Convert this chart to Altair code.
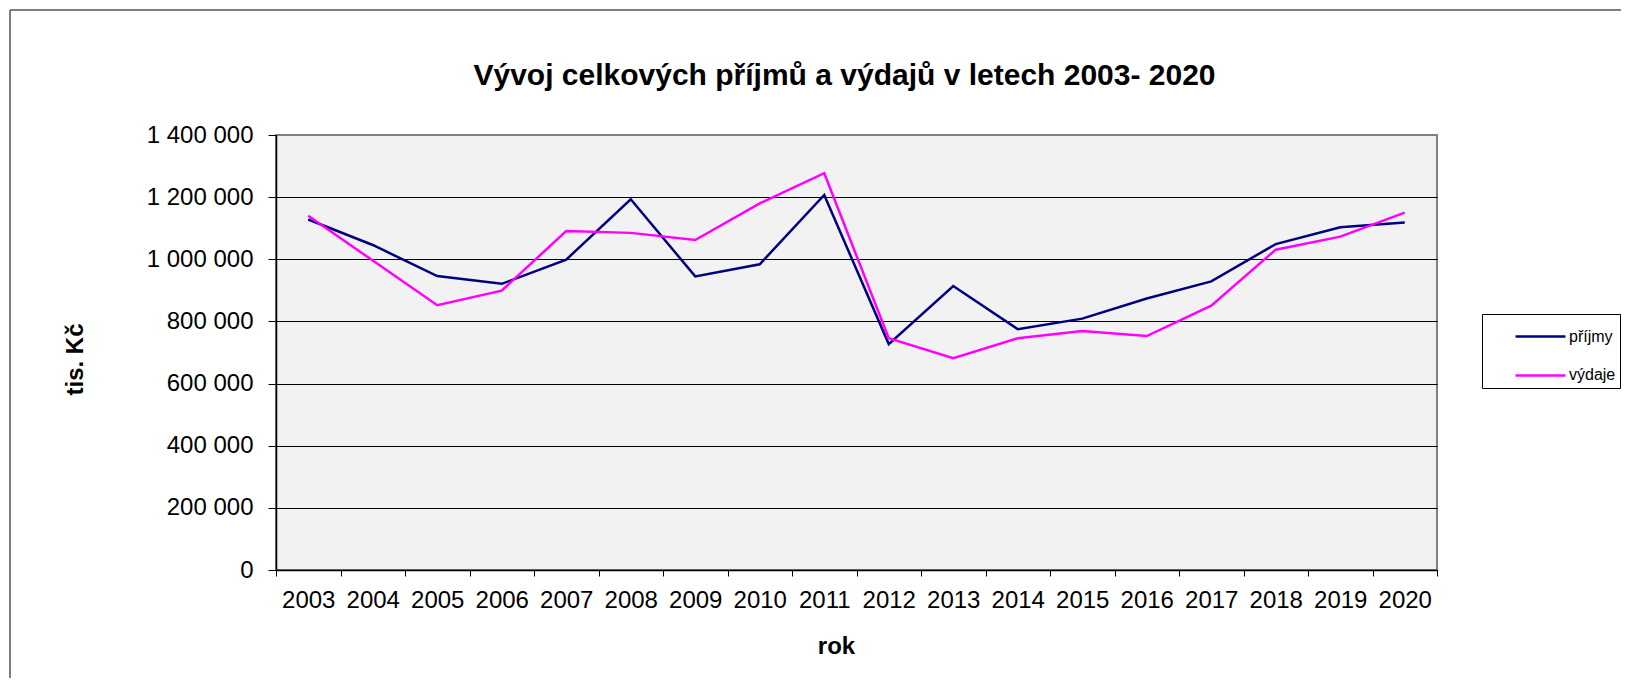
import altair as alt
import pandas as pd

# ---- data ----
years = [str(y) for y in range(2003, 2021)]
prijmy = [1128000, 1046000, 946000, 921000, 999000, 1193000, 945000, 984000, 1207000,
          727000, 914000, 775000, 809000, 874000, 929000, 1049000, 1103000, 1118000]
vydaje = [1140000, 996000, 852000, 899000, 1091000, 1085000, 1062000, 1180000, 1277000,
          746000, 682000, 746000, 769000, 753000, 851000, 1031000, 1073000, 1150000]
series_names = ["příjmy", "výdaje"]
series_colors = ["#000080", "#FF00FF"]
y_ticks = [0, 200000, 400000, 600000, 800000, 1000000, 1200000, 1400000]

rows = []
for i, yr in enumerate(years):
    rows.append({"rok": yr, "serie": series_names[0], "hodnota": prijmy[i]})
    rows.append({"rok": yr, "serie": series_names[1], "hodnota": vydaje[i]})
df = pd.DataFrame(rows)

FONT = "Liberation Sans"
W, H = 1161, 435

x_enc = alt.X(
    "rok:N",
    bandPosition=0.5,
    sort=years,
    scale=alt.Scale(type="band", paddingInner=0, paddingOuter=0),
    axis=alt.Axis(
        title="rok", labelAngle=0, tickBand="extent", tickSize=6, tickColor="#000000",
        domainColor="#000000", domainWidth=1.5, labelFont=FONT, labelFontSize=24,
        labelColor="#000000", labelPadding=12, labelOverlap=False, grid=False,
        titleFont=FONT, titleFontSize=24, titleFontWeight="bold", titleColor="#000000",
        titleX=560, titleY=83, titleBaseline="alphabetic", titleAlign="center",
    ),
)
y_enc = alt.Y(
    "hodnota:Q",
    scale=alt.Scale(domain=[0, 1400000], nice=False, zero=True),
    axis=alt.Axis(
        values=y_ticks,
        labelExpr="replace(format(datum.value, ','), regexp(',', 'g'), ' ')",
        labelFont=FONT, labelFontSize=24, labelColor="#000000", labelPadding=15,
        tickSize=8, tickColor="#000000", domainColor="#000000", domainWidth=1.5,
        gridColor={"condition": {"test": "datum.value >= 1400000", "value": "#808080"},
                   "value": "#000000"},
        gridWidth=1,
        title="tis. Kč", titleFont=FONT, titleFontSize=24, titleFontWeight="bold",
        titleColor="#000000", titleX=-194, titleY=224, titleAngle=270,
        titleBaseline="alphabetic", titleAlign="center",
    ),
)

lines = alt.Chart(df).mark_line(strokeWidth=2.5).encode(
    x=x_enc,
    y=y_enc,
    color=alt.Color(
        "serie:N",
        scale=alt.Scale(domain=series_names, range=series_colors),
        legend=alt.Legend(
            title=None, orient="none", legendX=1206, legendY=179, padding=4,
            symbolType="M-1.47,0H1.47", symbolSize=1156, symbolStrokeWidth=2.5,
            symbolFillColor="transparent",
            rowPadding=11.9, symbolOffset=36, labelOffset=10,
            labelFont=FONT, labelFontSize=16, labelColor="#000000",
            strokeColor="#000000", fillColor="#FFFFFF",
        ),
    ),
)

one = pd.DataFrame({"k": [0]})
frame_left = alt.Chart(one).mark_rule(color="#555555", strokeWidth=1.5).encode(
    x=alt.value(-266), y=alt.value(-125), y2=alt.value(560)
)
frame_top = alt.Chart(one).mark_rule(color="#555555", strokeWidth=1.5).encode(
    x=alt.value(-266), x2=alt.value(1400), y=alt.value(-125)
)

chart = (
    alt.layer(frame_left, frame_top, lines)
    .properties(
        width=W,
        height=H,
        padding={"left": 268, "top": 127, "right": 184, "bottom": 108},
        autosize=alt.AutoSizeParams(type="none"),
        title=alt.TitleParams(
            "Vývoj celkových příjmů a výdajů v letech 2003- 2020",
            font=FONT, fontSize=30, fontWeight="bold", color="#000000",
            anchor="middle", frame="group", dx=-12, offset=-106, baseline="alphabetic",
        ),
    )
    .configure(background="#FFFFFF")
    .configure_view(fill="#F2F2F2", stroke="#808080", strokeWidth=2)
)

chart.save("out.html", embed_options={"renderer": "svg", "actions": False})
